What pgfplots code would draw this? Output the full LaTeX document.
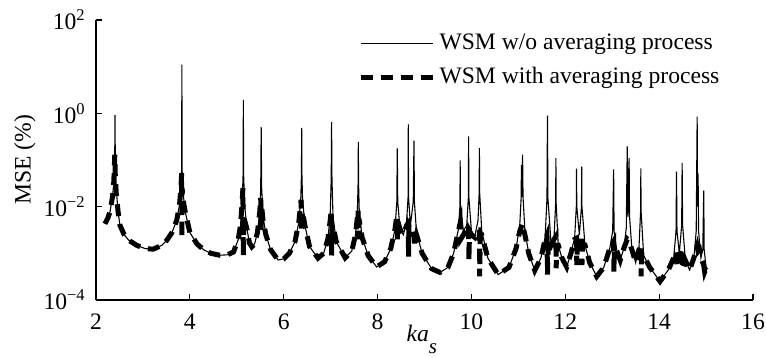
\documentclass[border=0pt]{standalone}
\usepackage{fontspec}
\setmainfont{Liberation Serif}
\usepackage{pgfplots}
\usepackage{pgfplotstable}
\pgfplotsset{compat=1.18}

\pgfplotstableread{
x y
2.19 4.3e-3
2.25 5.6e-3
2.30 7.9e-3
2.35 1.6e-2
2.38 3.2e-2
2.398 8e-2
2.405 0.91
2.412 8e-2
2.43 2.5e-2
2.47 7.9e-3
2.51 4e-3
2.60 2.5e-3
2.70 1.9e-3
2.87 1.48e-3
3.05 1.26e-3
3.22 1.23e-3
3.40 1.48e-3
3.51 1.9e-3
3.62 2.8e-3
3.72 5.1e-3
3.78 1.1e-2
3.81 2.5e-2
3.825 6.3e-2
3.83 11
3.835 6.3e-2
3.85 2.2e-2
3.90 7.9e-3
4.00 2.8e-3
4.15 1.6e-3
4.29 1.2e-3
4.45 1.0e-3
4.64 9.1e-4
4.80 9.3e-4
4.93 1.07e-3
5.03 1.95e-3
5.08 4e-3
5.115 1.26e-2
5.135 5e-2
5.14 1.95
5.145 5e-2
5.17 1e-2
5.22 3.2e-3
5.27 1.66e-3
5.32 1.38e-3
5.38 1.6e-3
5.44 2.8e-3
5.49 7.9e-3
5.51 2.5e-2
5.52 0.51
5.53 2.5e-2
5.56 6.3e-3
5.62 2.5e-3
5.72 1.2e-3
5.88 7.2e-4
6.00 7.6e-4
6.12 1e-3
6.24 1.78e-3
6.32 4.5e-3
6.365 1.6e-2
6.378 5e-2
6.383 0.49
6.388 5e-2
6.40 1.6e-2
6.45 4e-3
6.55 1.4e-3
6.73 7.9e-4
6.85 1e-3
6.94 2e-3
6.99 6.3e-3
7.012 4e-2
7.02 0.65
7.028 4e-2
7.05 6.3e-3
7.12 1.78e-3
7.31 8e-4
7.45 1.12e-3
7.53 2.5e-3
7.57 7.9e-3
7.585 3.2e-2
7.59 0.245
7.595 3.2e-2
7.61 7.9e-3
7.67 2.2e-3
7.80 8.9e-4
7.98 5.1e-4
8.15 6.6e-4
8.28 1.26e-3
8.37 3.2e-3
8.41 1.26e-2
8.42 0.178
8.43 1.26e-2
8.48 3.2e-3
8.55 2.5e-3
8.62 5e-3
8.65 1.6e-2
8.655 0.58
8.66 1.6e-2
8.70 4e-3
8.76 1.26e-2
8.776 0.26
8.785 1.26e-2
8.83 2.8e-3
8.95 1e-3
9.15 4.7e-4
9.33 3.9e-4
9.50 5e-4
9.62 1e-3
9.72 3.2e-3
9.755 1e-2
9.76 9.8e-2
9.765 1e-2
9.83 3e-3
9.90 4e-3
9.935 1.6e-2
9.94 0.32
9.945 1.6e-2
10.00 3e-3
10.07 2.3e-3
10.14 5e-3
10.165 2e-2
10.17 0.18
10.175 2e-2
10.22 3e-3
10.35 7.9e-4
10.57 3.5e-4
10.80 5e-4
10.95 1.26e-3
11.03 4e-3
11.06 1.6e-2
11.065 7.9e-2
11.075 1.6e-2
11.09 0.13
11.10 1.6e-2
11.14 3e-3
11.22 1e-3
11.35 4.3e-4
11.48 7.9e-4
11.57 2.2e-3
11.61 1.5e-2
11.62 0.89
11.63 1.5e-2
11.70 1.5e-3
11.76 2.2e-3
11.795 1.2e-2
11.80 0.11
11.805 1.2e-2
11.85 1.5e-3
11.93 7.9e-4
12.03 5.1e-4
12.12 1e-3
12.20 2.2e-3
12.235 1e-2
12.24 6.5e-2
12.245 1e-2
12.30 2.5e-3
12.345 1e-2
12.35 7.2e-2
12.355 1e-2
12.42 1.5e-3
12.52 6.3e-4
12.67 3.2e-4
12.82 5e-4
12.95 1.3e-3
13.01 3e-3
13.03 6.3e-2
13.04 3e-3
13.10 1.1e-3
13.17 7.1e-4
13.25 1.3e-3
13.30 3.5e-3
13.32 0.195
13.335 6e-3
13.36 0.11
13.37 6e-3
13.42 1.2e-3
13.50 6.3e-4
13.57 1.3e-3
13.605 8e-3
13.61 6.6e-2
13.615 8e-3
13.67 9e-4
13.80 5e-4
14.02 2.5e-4
14.20 4.5e-4
14.31 8e-4
14.36 3e-3
14.37 5.6e-2
14.38 3e-3
14.43 1e-3
14.48 4e-3
14.49 8.7e-2
14.50 4e-3
14.56 7e-4
14.65 4.4e-4
14.74 8e-4
14.79 3e-3
14.81 0.85
14.82 1e-2
14.83 5.1e-2
14.84 3e-3
14.89 8e-4
14.93 1.2e-3
14.95 2.2e-2
14.96 1.2e-3
15.00 5e-4
15.04 4.6e-4
}\solid

\pgfplotstableread{
x y
2.19 4.3e-3
2.25 5.6e-3
2.30 7.9e-3
2.35 1.6e-2
2.38 3.5e-2
2.40 0.13
2.41 5e-2
2.43 2e-2
2.47 7.9e-3
2.51 4e-3
2.60 2.5e-3
2.70 1.9e-3
2.87 1.48e-3
3.05 1.26e-3
3.22 1.23e-3
3.40 1.48e-3
3.51 1.9e-3
3.62 2.8e-3
3.72 5.1e-3
3.78 1.1e-2
3.81 2.5e-2
3.825 5.2e-2
3.83 2.1e-3
3.835 2.5e-2
3.85 1.5e-2
3.90 7.9e-3
4.00 2.8e-3
4.15 1.6e-3
4.29 1.2e-3
4.45 1.0e-3
4.64 9.1e-4
4.80 9.3e-4
4.93 1.07e-3
5.03 1.95e-3
5.08 4e-3
5.115 1.26e-2
5.13 2.5e-2
5.14 8.7e-4
5.15 6e-3
5.17 5e-3
5.22 3.2e-3
5.27 1.66e-3
5.32 1.38e-3
5.38 1.6e-3
5.44 2.8e-3
5.49 7.9e-3
5.51 1.55e-2
5.52 3e-3
5.53 1e-2
5.56 5e-3
5.62 2.5e-3
5.72 1.2e-3
5.88 7.2e-4
6.00 7.6e-4
6.12 1e-3
6.24 1.78e-3
6.32 4.5e-3
6.37 1.4e-2
6.383 3e-3
6.40 8e-3
6.45 4e-3
6.55 1.4e-3
6.73 7.9e-4
6.85 1e-3
6.94 2e-3
6.99 5e-3
7.012 8.5e-3
7.02 9e-4
7.03 4e-3
7.05 4e-3
7.12 1.78e-3
7.31 8e-4
7.45 1.12e-3
7.53 2.5e-3
7.57 6e-3
7.585 8.5e-3
7.59 2e-3
7.60 5e-3
7.61 5e-3
7.67 2.2e-3
7.80 8.9e-4
7.98 5.1e-4
8.15 6.6e-4
8.28 1.26e-3
8.37 3.2e-3
8.41 6.6e-3
8.42 2e-3
8.43 5e-3
8.48 3.2e-3
8.55 2.5e-3
8.62 4e-3
8.655 4.4e-3
8.66 8.5e-4
8.67 4e-3
8.70 3.5e-3
8.76 3.2e-3
8.776 2.5e-3
8.785 1.5e-3
8.83 2.5e-3
8.95 1e-3
9.15 4.7e-4
9.33 3.9e-4
9.50 5e-4
9.62 1e-3
9.72 3e-3
9.76 4.4e-3
9.77 2e-3
9.83 2.5e-3
9.90 3.5e-3
9.94 4e-3
9.945 7e-4
9.96 3e-3
10.00 2.5e-3
10.07 2.2e-3
10.14 3.2e-3
10.17 3.2e-3
10.175 3.2e-4
10.19 2.5e-3
10.22 2.5e-3
10.35 7.9e-4
10.57 3.5e-4
10.80 5e-4
10.95 1.26e-3
11.03 3e-3
11.09 4.4e-3
11.12 3e-3
11.14 2.5e-3
11.22 1e-3
11.35 4.3e-4
11.48 7.9e-4
11.57 2e-3
11.61 2.5e-3
11.62 3.5e-4
11.64 2e-3
11.70 1.5e-3
11.76 2e-3
11.80 2.3e-3
11.805 4.8e-4
11.82 1.5e-3
11.85 1.5e-3
11.93 7.9e-4
12.03 5.1e-4
12.12 1e-3
12.20 2e-3
12.24 2.1e-3
12.245 5.6e-4
12.26 2e-3
12.30 2e-3
12.35 2.1e-3
12.355 5.6e-4
12.37 1.5e-3
12.42 1.5e-3
12.52 6.3e-4
12.67 3.2e-4
12.82 5e-4
12.95 1.3e-3
13.03 1.8e-3
13.035 4e-4
13.05 1.3e-3
13.10 1.1e-3
13.17 7.1e-4
13.25 1.3e-3
13.32 2e-3
13.36 1.8e-3
13.42 1.2e-3
13.50 6.3e-4
13.57 1.2e-3
13.61 1.55e-3
13.615 3.2e-4
13.63 1e-3
13.67 9e-4
13.80 5e-4
14.02 2.5e-4
14.20 4.5e-4
14.31 8e-4
14.37 1.1e-3
14.38 5e-4
14.43 8e-4
14.49 1.3e-3
14.50 4.5e-4
14.56 7e-4
14.65 4.4e-4
14.74 8e-4
14.81 1.4e-3
14.83 1.1e-3
14.86 1.2e-3
14.89 8e-4
14.95 5.6e-4
14.97 4e-4
15.00 4.8e-4
}\dashedline

\begin{document}
\fontsize{11.8pt}{14pt}\selectfont
\begin{tikzpicture}
\begin{axis}[
  scale only axis,
  width=328.5pt, height=140pt,
  xmin=2, xmax=16, ymin=1e-4, ymax=1e2,
  ymode=log,
  axis lines=left,
  axis line style={-, line width=0.6pt},
  tick align=inside,
  major tick length=3pt,
  tick style={black, line width=0.6pt},
  xtick={2,4,...,16},
  ytick={1e-4,1e-2,1,1e2},
  yticklabels={10\textsuperscript{−4},10\textsuperscript{−2},10\textsuperscript{0},10\textsuperscript{2}},
  yminorticks=false,
  /pgf/number format/assume math mode=true,
  xticklabel style={yshift=-3pt},
  yticklabel style={xshift=-1pt},
  xlabel={\textit{ka}\raisebox{-0.5em}{\fontsize{10.5pt}{12pt}\selectfont\textit{s}}},
  xlabel style={at={(axis description cs:0.496,-0.148)}, anchor=base},
  ylabel={MSE (\%)},
  ylabel style={at={(axis description cs:-0.108,0.5)}, anchor=center},
  clip=false,
  legend style={draw=none, fill=none, at={(axis description cs:0.399,0.965)}, anchor=north west, inner sep=0pt, row sep=3pt, font=\fontsize{11.8pt}{14pt}\selectfont},
  legend cell align=left,
  legend image code/.code={\draw[#1] (0pt,0pt) -- (36pt,0pt);},
]
\coordinate (O) at (rel axis cs:0,0);
\addplot[black, line width=0.55pt] table[x=x,y=y] {\solid};
\addlegendentry{WSM w/o averaging process}
\addplot[black, line width=2.5pt, dash pattern=on 6pt off 4pt] table[x=x,y=y] {\dashedline};
\addlegendentry{WSM with averaging process}
\end{axis}
\pgfresetboundingbox
\path (O) ++(-48pt,-29pt) rectangle ++(383pt,179pt);
\end{tikzpicture}
\end{document}
